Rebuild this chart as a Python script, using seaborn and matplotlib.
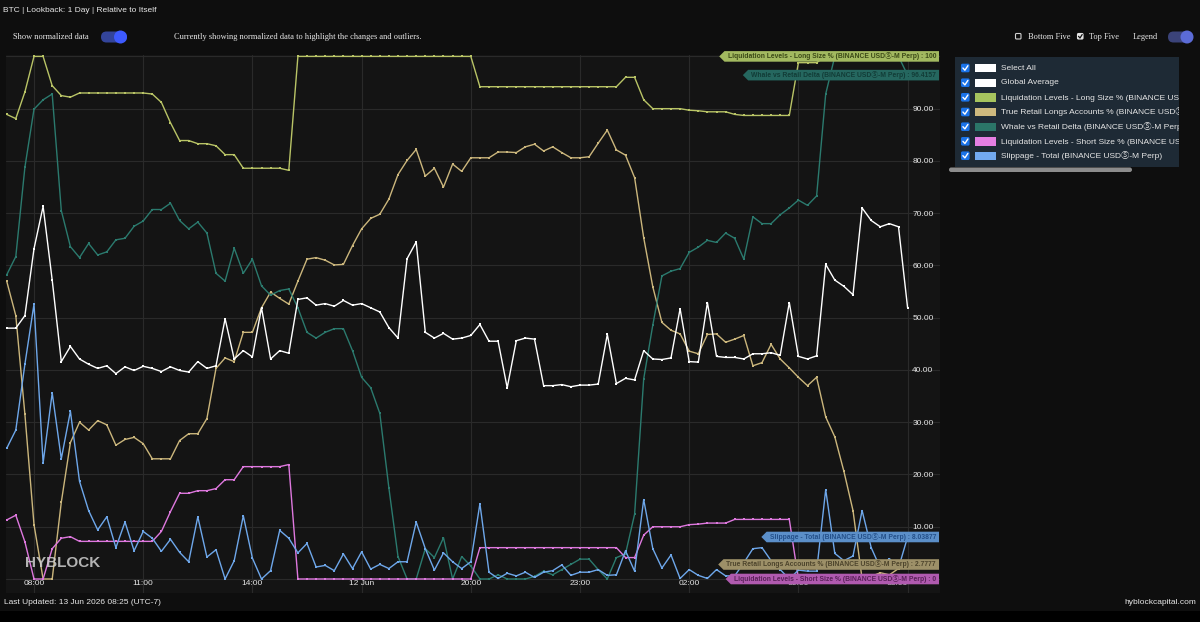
import matplotlib
matplotlib.use("Agg")
import numpy as np
import pandas as pd
import matplotlib.pyplot as plt
import matplotlib.transforms as mtransforms
from matplotlib.patches import FancyBboxPatch, Rectangle, Circle
from matplotlib.path import Path
from matplotlib.lines import Line2D
import seaborn as sns

sns.set_style("dark")
plt.rcParams["font.family"] = ["Liberation Sans", "DejaVu Sans", "Noto Sans CJK JP"]
SERIF = ["Liberation Serif", "DejaVu Serif", "Noto Sans CJK JP"]

# ---------------- data ----------------
x_tick_pos = [3, 15, 27, 39, 51, 63, 75, 87, 99]
x_tick_labels = ["08:00", "11:00", "14:00", "12 Jun", "20:00", "23:00", "02:00", "05:00", "08:00"]
y_ticks = [0, 10, 20, 30, 40, 50, 60, 70, 80, 90, 100]

liq_long = [88.9, 88.1, 93.2, 100, 100, 94.4, 92.5, 92.2, 93.0, 93.0, 93.0, 93.0, 93.0, 93.0, 93.0, 93.0,
            92.8, 91.2, 87.3, 83.9, 83.9, 83.3, 83.3, 82.9, 81.2, 81.2,
            78.6, 78.6, 78.6, 78.6, 78.6, 78.2,
            100, 100, 100, 100, 100, 100, 100, 100, 100, 100, 100, 100, 100, 100, 100, 100, 100, 100, 100, 100,
            94.2, 94.2, 94.2, 94.2, 94.2, 94.2, 94.2, 94.2, 94.2, 94.2, 94.2, 94.2, 94.2, 94.2, 94.2, 94.2,
            96.0, 96.0, 91.7, 90.0, 90.0, 90.0, 90.0, 89.7, 89.6, 89.4, 89.4, 89.4, 88.9,
            88.7, 88.7, 88.7, 88.7, 88.7, 88.7, 98.8, 98.8, 98.8,
            100, 100, 100, 100, 100, 100, 100, 100, 100, 100]

true_retail = [57.0, 50.4, 31.5, 10.4, 0.0, 0.0, 14.7, 26.1, 30.0, 28.5, 30.3, 29.5, 25.6, 26.7, 27.1, 25.9,
               23.0, 23.0, 23.0, 26.5, 27.8, 27.8, 30.7, 40.3, 42.3, 41.6,
               47.2, 47.2, 51.9, 54.9, 53.7, 52.6, 57.0, 61.2, 61.5, 61.0, 60.1, 60.2, 63.8, 67.0, 69.0, 69.8,
               72.7, 77.4, 80.1, 82.2, 77.1, 78.6, 75.0, 79.4, 78.0,
               80.6, 80.6, 80.6, 81.7, 81.7, 81.6, 82.7, 83.2, 81.9, 82.7, 81.6, 80.6, 80.6, 80.8, 83.4, 85.9,
               82.1, 81.1, 76.8, 65.3, 55.9, 49.1, 47.6, 46.9, 43.6, 43.1,
               46.8, 46.9, 45.3, 45.9, 46.6, 40.8, 41.4, 44.9, 42.1, 40.4, 38.6, 37.0, 38.6, 31.0, 27.2, 20.6, 13.1,
               0.0, 0.5, 1.2, 0.8, 2.0, 2.7777]

whale = [58.2, 61.7, 78.8, 89.9, 91.7, 92.8, 70.5, 63.6, 61.5, 64.2, 62.0, 62.6, 64.9, 65.2, 67.5, 68.5,
         70.7, 70.7, 71.9, 68.6, 67.0, 68.3, 66.2, 58.5, 57.0, 63.3,
         58.5, 61.2, 56.1, 54.3, 55.2, 55.5, 51.9, 47.2, 46.1, 47.2, 47.9, 47.9, 43.7, 38.6, 36.6, 31.7,
         17.4, 4.3, 0.0, 0.0, 5.8, 4.1, 7.9, 0.0, 4.3,
         2.5, 0.0, 0.0, 0.8, 0.0, 0.0, 0.0, 0.5, 1.5, 0.8, 1.8, 2.8, 3.8, 3.8, 1.8, 0.0,
         4.1, 4.8, 12.4, 38.3, 48.6, 58.0, 58.9, 59.4, 62.5, 63.5,
         64.8, 64.4, 66.2, 65.2, 61.2, 69.3, 68.0, 68.0, 69.7, 71.0, 72.5, 71.5, 73.3, 92.8, 100, 100, 100,
         100, 100, 100, 100, 100, 96.4157]

global_avg = [48.0, 48.0, 50.4, 63.2, 71.3, 57.2, 41.6, 44.5, 42.1, 41.1, 40.3, 40.8, 39.3, 40.6, 39.9, 40.7,
              40.3, 39.7, 40.6, 39.9, 39.6, 41.6, 40.3, 40.8, 49.8, 42.1,
              43.7, 42.5, 51.9, 42.1, 43.7, 43.2, 53.5, 53.8, 52.4, 52.7, 52.2, 53.3, 52.4, 52.7, 51.9, 51.1,
              48.1, 46.1, 61.3, 64.5, 47.2, 46.1, 47.0, 45.9, 46.1,
              46.6, 48.7, 45.5, 45.5, 36.6, 45.6, 46.1, 45.9, 37.0, 37.0, 37.2, 36.8, 37.1, 37.1, 37.3, 46.8,
              37.4, 38.4, 38.1, 43.7, 42.1, 42.0, 42.3, 51.7, 41.6, 41.5,
              52.9, 42.6, 42.4, 42.4, 42.1, 43.1, 43.1, 43.3, 42.8, 52.9, 42.6, 42.1, 42.7, 60.2, 57.2, 56.0, 54.4,
              71.0, 68.6, 67.4, 68.0, 67.4, 51.9]

liq_short = [11.3, 12.2, 7.1, 0.0, 0.0, 5.8, 7.8, 8.1, 7.2, 7.2, 7.2, 7.2, 7.2, 7.2, 7.2, 7.2,
             7.2, 9.1, 12.9, 16.4, 16.4, 16.9, 16.9, 17.3, 19.0, 19.0,
             21.5, 21.5, 21.5, 21.5, 21.5, 21.9,
             0, 0, 0, 0, 0, 0, 0, 0, 0, 0, 0, 0, 0, 0, 0, 0, 0, 0, 0, 0,
             6.0, 6.0, 6.0, 6.0, 6.0, 6.0, 6.0, 6.0, 6.0, 6.0, 6.0, 6.0, 6.0, 6.0, 6.0, 6.0,
             4.1, 4.1, 8.4, 10.0, 10.0, 10.0, 10.0, 10.4, 10.5,
             10.7, 10.7, 10.7, 11.4, 11.4, 11.4, 11.4, 11.4, 11.4, 11.4,
             0, 0, 0, 0, 0, 0, 0, 0, 0, 0, 0, 0, 0]

slippage = [25.0, 28.5, 41.1, 52.6, 22.2, 35.6, 23.0, 32.1, 18.7, 13.1, 9.4, 11.9, 6.0, 10.9, 5.4, 9.1,
            7.8, 5.3, 7.6, 5.1, 3.3, 11.9, 4.2, 5.6, 0.0, 3.5,
            12.1, 4.0, 0.0, 1.6, 9.3, 7.8, 5.0, 6.8, 2.3, 2.6, 1.6, 4.8, 2.0, 5.2, 1.9, 2.8,
            2.0, 3.3, 3.3, 10.9, 5.8, 1.7, 5.0, 3.3, 2.0,
            3.3, 14.4, 1.3, 0.1, 1.1, 0.6, 1.3, 0.3, 1.3, 1.6, 2.7, 0.7, 1.3, 1.3, 1.8, 0.7,
            0.8, 5.4, 1.5, 15.2, 5.8, 2.1, 4.6, 0.1, 1.8, 0.7,
            0.1, 1.8, 0.6, 0.6, 3.1, 5.8, 6.0, 3.5, 1.8, 0.0, 1.7, 1.5, 1.5, 17.1, 4.9, 3.5, 4.4,
            13.1, 6.0, 2.1, 3.9, 2.1, 8.03877]

series_names = [
    "Liquidation Levels - Long Size % (BINANCE USDⓈ-M Perp)",
    "True Retail Longs Accounts % (BINANCE USDⓈ-M Perp)",
    "Whale vs Retail Delta (BINANCE USDⓈ-M Perp)",
    "Liquidation Levels - Short Size % (BINANCE USDⓈ-M Perp)",
    "Slippage - Total (BINANCE USDⓈ-M Perp)",
    "Global Average",
]
series_values = [liq_long, true_retail, whale, liq_short, slippage, global_avg]
line_colors = ["#b9c466", "#cbb67c", "#2b7a6e", "#de78de", "#6ea7ea", "#ffffff"]

tag_series = [0, 2, 4, 1, 3]
tag_texts = ["100", "96.4157", "8.03877", "2.7777", "0"]
tag_bg = ["#a2b960", "#25675f", "#5b8fc9", "#9d9068", "#b05aaf"]
tag_fg = ["#3c4a17", "#123c37", "#24508a", "#4d442c", "#5a2159"]

legend_labels = ["Select All", "Global Average",
                 "Liquidation Levels - Long Size % (BINANCE USDⓈ-M Perp)",
                 "True Retail Longs Accounts % (BINANCE USDⓈ-M Perp)",
                 "Whale vs Retail Delta (BINANCE USDⓈ-M Perp)",
                 "Liquidation Levels - Short Size % (BINANCE USDⓈ-M Perp)",
                 "Slippage - Total (BINANCE USDⓈ-M Perp)"]
legend_swatches = ["#ffffff", "#ffffff", "#a6c45e", "#cdb97e", "#2b7568", "#e57fe3", "#72aaf0"]

for v in series_values:
    assert len(v) == 100, len(v)

rows = []
for name, vals in zip(series_names, series_values):
    for i, v in enumerate(vals):
        rows.append((i, v, name))
df = pd.DataFrame(rows, columns=["idx", "value", "series"])

# ---------------- figure ----------------
W, H = 1200, 622
fig = plt.figure(figsize=(12, 6.22), dpi=100, facecolor="#0e0e0e")

def fr(x0, y0, x1, y1):
    return [x0 / W, 1 - y1 / H, (x1 - x0) / W, (y1 - y0) / H]

ax = fig.add_axes(fr(6, 55, 940, 593))
ax.set_facecolor("#141414")

sns.lineplot(data=df, x="idx", y="value", hue="series", hue_order=series_names,
             palette=dict(zip(series_names, line_colors)), marker="s", markersize=1.8,
             markeredgewidth=0, linewidth=1.0, legend=False, sort=False,
             errorbar=None, ax=ax)

ax.set_xlim((6 - 6.7) / 9.1, (940 - 6.7) / 9.1)
ax.set_ylim((579 - 593) / 5.226, (579 - 55) / 5.226)
ax.set_xlabel("")
ax.set_ylabel("")
for s in ax.spines.values():
    s.set_visible(False)

ax.set_xticks(x_tick_pos)
ax.set_xticklabels(x_tick_labels)
ax.set_yticks(y_ticks)
ax.set_yticklabels([f"{v:.2f}" for v in y_ticks])
ax.yaxis.tick_right()
ax.grid(True, color="#2a2a2a", linewidth=0.8)
ax.set_axisbelow(True)
ax.tick_params(axis="x", length=0, pad=-9.4, labelsize=6.0, labelcolor="#e6e6e6")
ax.tick_params(axis="y", length=0, pad=-20, labelsize=6.0, labelcolor="#e6e6e6")
ax.get_xticklabels()[-1].set_horizontalalignment("right")


def tag_box(x0, y0, width, height, mutation_size):
    px, py = 3.0, 1.3
    x0 -= px
    x1 = x0 + width + 2 * px
    y0 -= py
    y1 = y0 + height + 2 * py
    tip = (y1 - y0) * 0.5
    verts = [(x0, y0), (x1, y0), (x1, y1), (x0, y1), (x0 - tip, (y0 + y1) / 2), (x0, y0)]
    codes = [Path.MOVETO] + [Path.LINETO] * 4 + [Path.CLOSEPOLY]
    return Path(verts, codes)


trans = mtransforms.blended_transform_factory(ax.transAxes, ax.transData)
for k, si in enumerate(tag_series):
    val = series_values[si][-1]
    ax.text(1 - 4 / 934, val, f"{series_names[si]} : {tag_texts[k]}", transform=trans,
            ha="right", va="center", fontsize=4.9, fontweight="bold", color=tag_fg[k],
            bbox=dict(boxstyle=tag_box, fc=tag_bg[k], ec="none"), zorder=10, clip_on=False)

# ---------------- overlay (pixel coords) ----------------
oax = fig.add_axes([0, 0, 1, 1], facecolor="none")
oax.set_xlim(0, W)
oax.set_ylim(H, 0)
oax.axis("off")

oax.add_patch(Rectangle((0, 611), W, 11, fc="#000000", ec="none"))

TXT = "#e8e8e8"
oax.text(3, 11, "BTC | Lookback: 1 Day | Relative to Itself", fontsize=6.0, color=TXT,
         ha="left", va="center")
oax.text(13, 37, "Show normalized data", fontsize=6.0, color=TXT, ha="left", va="center",
         family=SERIF)
oax.text(174, 37, "Currently showing normalized data to highlight the changes and outliers.",
         fontsize=6.0, color=TXT, ha="left", va="center", family=SERIF)

# toggles
oax.add_patch(FancyBboxPatch((101, 31.5), 26, 11, boxstyle="round,pad=0,rounding_size=5.5",
                             fc="#33449a", ec="none"))
oax.add_patch(Circle((120.5, 37), 6.5, fc="#3d5afe", ec="none"))
oax.add_patch(FancyBboxPatch((1168, 31.5), 25, 11, boxstyle="round,pad=0,rounding_size=5.5",
                             fc="#3b4379", ec="none"))
oax.add_patch(Circle((1187, 37), 6.5, fc="#5b6bd6", ec="none"))

# top-right checkboxes
oax.add_patch(FancyBboxPatch((1015.5, 33.5), 5.5, 5.5, boxstyle="round,pad=0,rounding_size=1",
                             fc="none", ec="#d0d0d0", lw=0.8))
oax.text(1028, 37, "Bottom Five", fontsize=6.0, color=TXT, ha="left", va="center", family=SERIF)
oax.add_patch(FancyBboxPatch((1077.5, 33.5), 5.5, 5.5, boxstyle="round,pad=0,rounding_size=1",
                             fc="#e6e6e6", ec="#e6e6e6", lw=0.8))
oax.add_line(Line2D([1078.5, 1080, 1082.2], [36.3, 38, 34.5], color="#111111", lw=0.9))
oax.text(1089, 37, "Top Five", fontsize=6.0, color=TXT, ha="left", va="center", family=SERIF)
oax.text(1133, 37, "Legend", fontsize=6.0, color=TXT, ha="left", va="center", family=SERIF)

# watermark & footer
oax.text(25, 563, "HYBLOCK", fontsize=11, fontweight="bold", color="#d0d0d0", alpha=0.85,
         ha="left", va="center")
oax.text(4, 603, "Last Updated: 13 Jun 2026 08:25 (UTC-7)", fontsize=6.0, color=TXT,
         ha="left", va="center")
oax.text(1196, 603, "hyblockcapital.com", fontsize=6.0, color=TXT, ha="right", va="center")

# legend scrollbar
oax.add_patch(FancyBboxPatch((949, 167.5), 183, 4.5, boxstyle="round,pad=0,rounding_size=2.2",
                             fc="#8c8c8c", ec="none"))

# ---------------- legend panel ----------------
lax = fig.add_axes(fr(954.5, 57, 1179, 167))
lax.set_facecolor("#1e2a35")
lax.set_xlim(0, 224.5)
lax.set_ylim(110, 0)
lax.set_xticks([])
lax.set_yticks([])
for s in lax.spines.values():
    s.set_visible(False)

row_y = [11, 25.7, 40.3, 55, 69.7, 84.3, 98.7]
for y, lab, sw in zip(row_y, legend_labels, legend_swatches):
    lax.add_patch(FancyBboxPatch((6.5, y - 4.3), 8.6, 8.6, boxstyle="round,pad=0,rounding_size=1.5",
                                 fc="#1a73e8", ec="none"))
    lax.add_line(Line2D([8.4, 10.4, 13.4], [y, y + 2.2, y - 2.3], color="white", lw=1.0,
                        solid_capstyle="round"))
    lax.add_patch(Rectangle((20, y - 4.2), 21, 8.4, fc=sw, ec="none"))
    lax.text(46.5, y, lab, fontsize=6.0, color="#e6e6e6", ha="left", va="center", clip_on=True)

fig.savefig("out.png", dpi=100, facecolor=fig.get_facecolor())
